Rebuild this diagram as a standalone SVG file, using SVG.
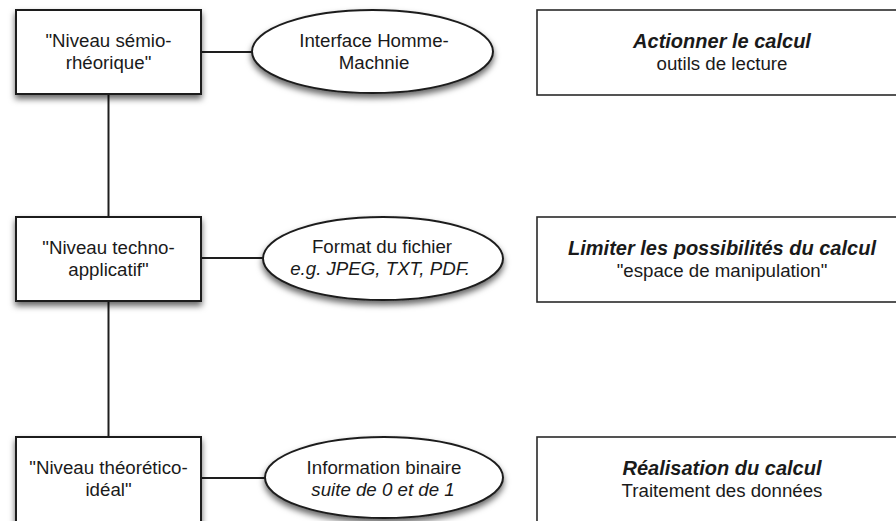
<svg xmlns="http://www.w3.org/2000/svg" width="896" height="521" viewBox="0 0 896 521">
  <defs>
    <filter id="shadow" x="-20%" y="-20%" width="140%" height="160%">
      <feDropShadow dx="0" dy="4" stdDeviation="3" flood-color="#000" flood-opacity="0.6"/>
    </filter>
  </defs>
  <style>
    .lvl { fill: #ffffff; stroke: #1e1e1e; stroke-width: 2; filter: url(#shadow); }
    .ell { fill: #ffffff; stroke: #1e1e1e; stroke-width: 2; filter: url(#shadow); }
    .desc { fill: #ffffff; stroke: #2a2a2a; stroke-width: 1.6; }
    .conn { stroke: #1e1e1e; stroke-width: 2; fill: none; }
    text { font-family: "Liberation Sans", Arial, Helvetica, sans-serif; fill: #1a1a1a; text-anchor: middle; }
    .t { font-size: 18.7px; }
    .i { font-size: 18.7px; font-style: italic; }
    .b { font-size: 20px; font-weight: bold; font-style: italic; }
  </style>
  <rect width="896" height="521" fill="#ffffff"/>

  <g id="connectors">
    <line class="conn" x1="108.5" y1="94" x2="108.5" y2="217"/>
    <line class="conn" x1="108.5" y1="301" x2="108.5" y2="437"/>
    <line class="conn" x1="201" y1="52" x2="252" y2="52"/>
    <line class="conn" x1="201" y1="258" x2="263" y2="258"/>
    <line class="conn" x1="201" y1="478" x2="265" y2="478"/>
  </g>

  <g id="niveau-semio">
    <rect class="lvl" x="16" y="10" width="185" height="84"/>
    <text class="t" x="108.5" y="47">"Niveau sémio-</text>
    <text class="t" x="108.5" y="69">rhéorique"</text>
  </g>
  <g id="niveau-techno">
    <rect class="lvl" x="16" y="217" width="185" height="84"/>
    <text class="t" x="108.5" y="254">"Niveau techno-</text>
    <text class="t" x="108.5" y="276">applicatif"</text>
  </g>
  <g id="niveau-theoretico">
    <rect class="lvl" x="16" y="437" width="185" height="86"/>
    <text class="t" x="108.5" y="474">"Niveau théorético-</text>
    <text class="t" x="108.5" y="496">idéal"</text>
  </g>

  <g id="interface">
    <ellipse class="ell" cx="372.5" cy="51.5" rx="120.5" ry="41.5"/>
    <text class="t" x="374" y="47">Interface Homme-</text>
    <text class="t" x="374" y="69">Machnie</text>
  </g>
  <g id="format">
    <ellipse class="ell" cx="383" cy="258.5" rx="120" ry="41.5"/>
    <text class="t" x="382" y="253">Format du fichier</text>
    <text class="i" x="380" y="275">e.g. JPEG, TXT, PDF.</text>
  </g>
  <g id="information">
    <ellipse class="ell" cx="384" cy="477.5" rx="119" ry="40.5"/>
    <text class="t" x="384" y="474">Information binaire</text>
    <text class="i" x="383" y="496">suite de 0 et de 1</text>
  </g>

  <g id="actionner">
    <rect class="desc" x="537" y="10" width="370" height="85"/>
    <text class="b" x="722" y="48">Actionner le calcul</text>
    <text class="t" x="722" y="70">outils de lecture</text>
  </g>
  <g id="limiter">
    <rect class="desc" x="537" y="217" width="370" height="85"/>
    <text class="b" x="722" y="255">Limiter les possibilités du calcul</text>
    <text class="t" x="722" y="277">"espace de manipulation"</text>
  </g>
  <g id="realisation">
    <rect class="desc" x="537" y="437" width="370" height="86"/>
    <text class="b" x="722" y="475">Réalisation du calcul</text>
    <text class="t" x="722" y="497">Traitement des données</text>
  </g>
</svg>
